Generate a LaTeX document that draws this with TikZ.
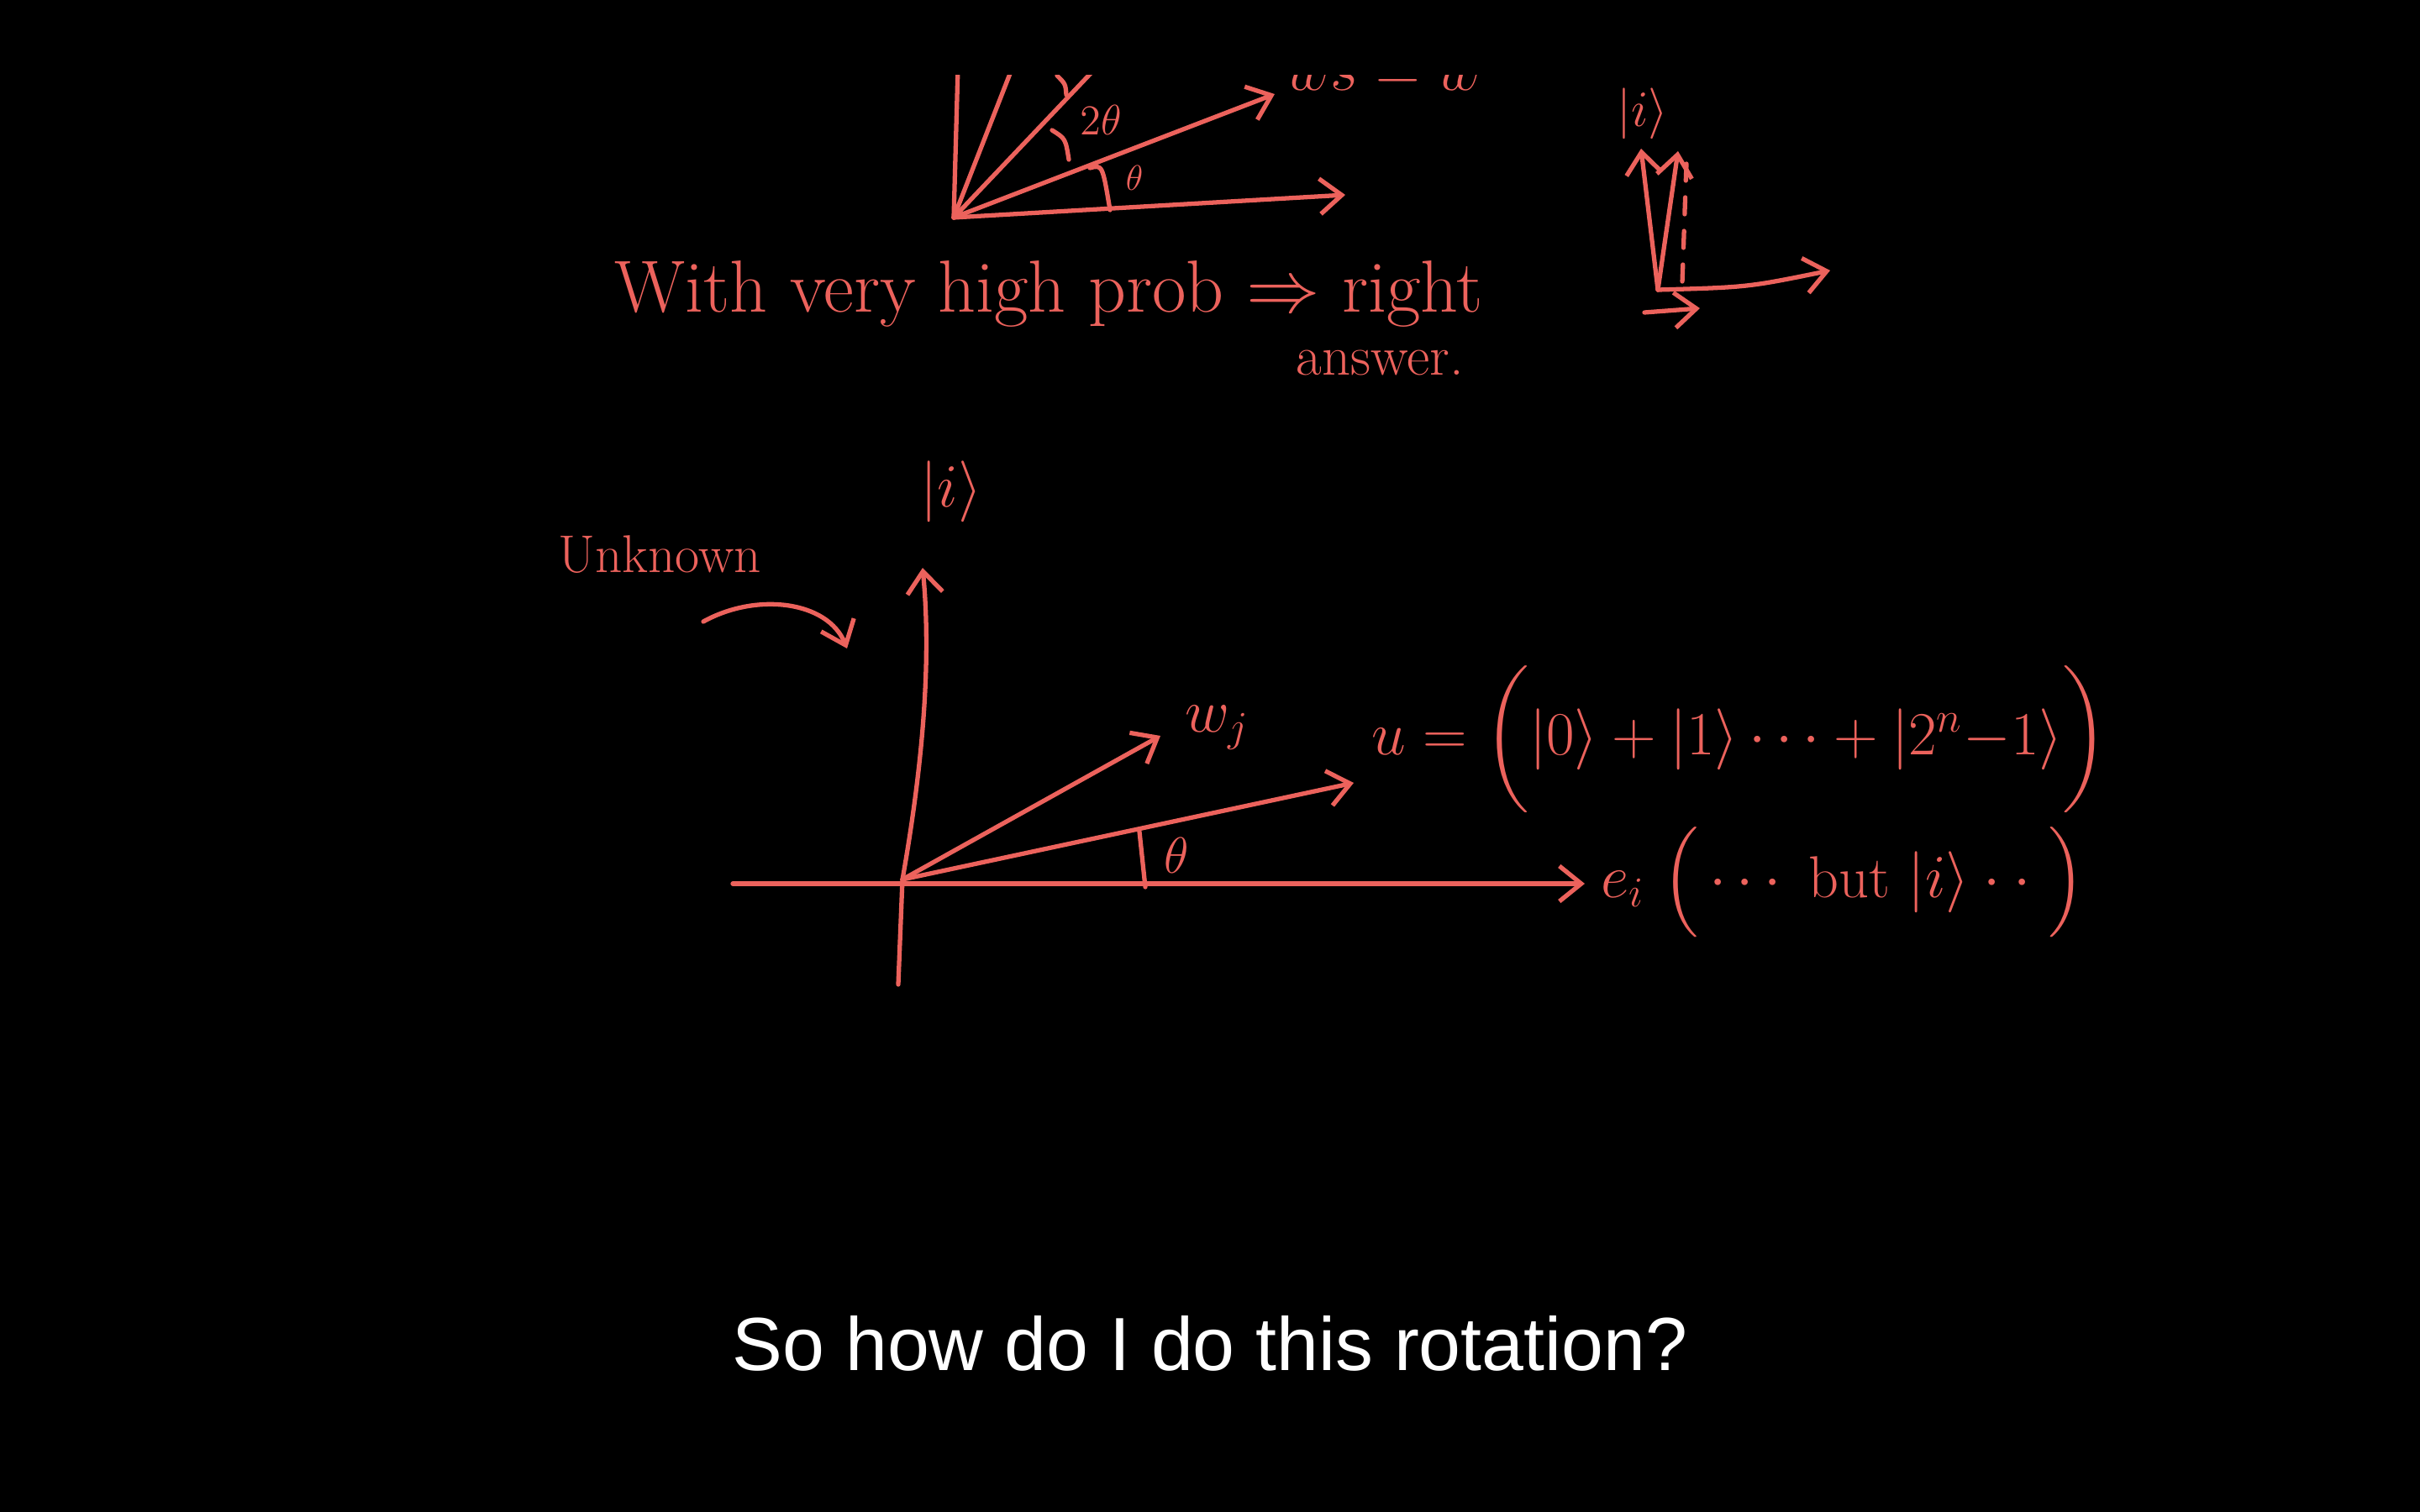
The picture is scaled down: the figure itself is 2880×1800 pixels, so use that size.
\documentclass[tikz,border=0pt]{standalone}
\usepackage{amsmath}
\usepackage{fontspec}
\setsansfont{Liberation Sans}
\usetikzlibrary{arrows.meta}
\definecolor{chalk}{RGB}{236,98,92}

\begin{document}
\begin{tikzpicture}[x=0.01cm,y=-0.01cm,
    pen/.style={chalk, line width=1.5pt, line cap=round, line join=round},
    vec/.style={pen, -{Straight Barb[length=2.6mm,width=4.2mm]}},
    ink/.style={chalk, inner sep=0pt, font=\fontsize{20}{24}\selectfont}]
  \fill[black] (0,0) rectangle (2880,1800);
  \useasboundingbox (0,0) rectangle (2880,1800);

  % top sketch, cut by the top of the frame
  \begin{scope}
    \clip (0,90) rectangle (2880,1800);
    \coordinate (o1) at (1135,259);
    \draw[vec] (o1) -- (1601,232);
    \draw[vec] (o1) -- (1517,112);
    \draw[pen] (o1) -- (1140,80);
    \draw[pen] (o1) -- (1205,80);
    \draw[pen] (o1) -- (1305,80);
    \draw[pen] (1258,90) .. controls (1268,100) .. (1269,113);
    \draw[pen] (1252,155) .. controls (1268,165) .. (1272,190);
    \draw[pen] (1297,200) .. controls (1312,196) .. (1321,250);
    \node[ink, font=\fontsize{15}{18}\selectfont] (twoth) at (1310,143) {$2\theta$};
    \node[ink, font=\fontsize{12}{14}\selectfont] (th1) at (1350,212) {$\theta$};
    \node[ink, anchor=south west] (ws) at (1530,108) {$ws=w$};
  \end{scope}
  \node[ink, font=\fontsize{25}{30}\selectfont, anchor=base west] (hint) at (731,372)
    {With very high prob $\Rightarrow$ right};
  \node[ink, font=\fontsize{19}{23}\selectfont, anchor=base west] (ans) at (1542,446) {answer.};

  % small axes on the right
  \coordinate (o2) at (1973,345);
  \draw[vec] (o2) -- (1953,177);
  \draw[vec] (o2) -- (1997,180);
  \draw[pen, dash pattern=on 2mm off 2mm] (2007,195) -- (2002,337);
  \draw[vec] (o2) .. controls (2080,342) .. (2178,322);
  \draw[vec] (1957,372) -- (2023,367);
  \node[ink, font=\fontsize{16}{19}\selectfont] (ket2) at (1955,135) {$|i\rangle$};

  % main axes
  \coordinate (o3) at (1074,1047);
  \coordinate (wj) at (1381,876);
  \coordinate (u) at (1611,932);
  \draw[vec] (872,1052) -- (1886,1052);
  \draw[pen] (1069,1172) -- (o3);
  \draw[vec] (o3) .. controls (1100,900) and (1108,780) .. (1098,676);
  \draw[vec] (o3) -- (wj);
  \draw[vec] (o3) -- (u);
  \draw[pen] (1356,990) -- (1363,1056);
  \node[ink, font=\fontsize{18}{22}\selectfont] (th) at (1400,1018) {$\theta$};
  \node[ink, font=\fontsize{22}{26}\selectfont] (ket) at (1132,585) {$|i\rangle$};
  \node[ink, font=\fontsize{18}{22}\selectfont] (unk) at (785,660) {Unknown};
  \draw[vec] (837,740) .. controls (900,705) and (985,715) .. (1008,772);
  \node[ink, anchor=west] (wjlab) at (1410,866) {$w_j$};
  \node[ink, font=\fontsize{20}{28}\selectfont, anchor=west] (ulab) at (1632,880)
    {$u = \bigg(|0\rangle+|1\rangle\cdots+|2^n{-}1\rangle\bigg)$};
  \node[ink, anchor=west] (elab) at (1905,1050)
    {$e_i\ \Big(\cdots\ \mathrm{but}\ |i\rangle\cdot\cdot\;\Big)$};

  % caption
  \node[white, font=\sffamily\fontsize{25.5}{30}\selectfont, anchor=base] (cap) at (1440,1631)
    {So how do I do this rotation?};
\end{tikzpicture}
\end{document}
